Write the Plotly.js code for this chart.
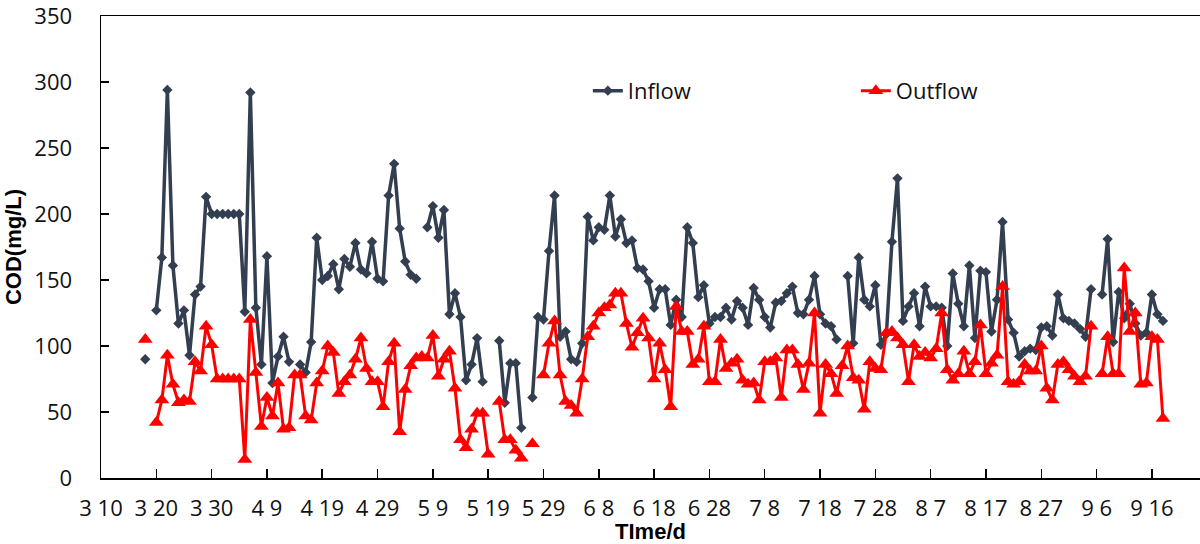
<!DOCTYPE html>
<html><head><meta charset="utf-8">
<script src="https://cdn.plot.ly/plotly-3.0.1.min.js"></script>
<style>html,body{margin:0;padding:0;background:#fff}#chart{width:1200px;height:544px}</style>
</head><body><div id="chart"></div>
<script>
// first sampled day of both series (one value per day, null = no sample)
const firstDay = '2019-03-18';

const inflow = [
  90, null, 127, 167, 294, 161, 117, 127, 93, 139,
  145, 213, 200, 200, 200, 200, 200, 200, 126, 292,
  129, 86, 168, 72, 92, 107, 88, null, 86, 80,
  103, 182, 150, 153, 162, 143, 166, 160, 178, 158,
  155, 179, 151, 149, 214, 238, 189, 164, 154, 151,
  null, 190, 206, 182, 203, 124, 140, 122, 74, 86,
  106, 73, null, null, 104, 57, 87, 87, 38, null,
  61, 122, 120, 172, 214, 107, 111, 90, 88, 102,
  198, 180, 190, 188, 214, 183, 196, 178, 180, 159,
  158, 149, 129, 143, 143, 116, 135, 122, 190, 178,
  137, 146, 117, 122, 122, 129, 120, 134, 129, 116,
  144, 135, 122, 114, 133, 134, 140, 145, 125, 124,
  135, 153, 124, 117, 115, 105, null, 153, 102, 167,
  135, 130, 146, 101, 109, 179, 227, 119, 130, 140,
  115, 145, 130, 130, 129, 100, 155, 132, 115, 161,
  106, 157, 156, 111, 135, 194, 120, 110, 92, 96,
  98, 97, 114, 115, 108, 139, 121, 119, 117, 113,
  107, 143, null, 139, 181, 103, 141, 121, 132, 117,
  108, 110, 139, 124, 119
];

const outflow = [
  105, null, 42, 59, 93, 71, 57, 59, 58, 88,
  81, 115, 101, 75, 75, 75, 75, 75, 14, 120,
  80, 39, 61, 47, 72, 37, 38, 78, 78, 47,
  44, 72, 81, 100, 95, 64, 73, 78, 90, 106,
  83, 73, 73, 54, 88, 102, 35, 67, 85, 91,
  92, 91, 108, 77, 90, 96, 68, 29, 23, 37,
  49, 49, 18, null, 58, 29, 29, 21, 15, null,
  26, null, 78, 102, 119, 78, 58, 55, 49, 75,
  107, 115, 125, 129, 131, 140, 140, 117, 99, 110,
  121, 106, 75, 102, 82, 54, 130, 111, 111, 86,
  90, 115, 73, 73, 105, 83, 87, 90, 74, 71,
  72, 59, 88, 88, 91, 61, 97, 97, 86, 67,
  87, 125, 49, 86, 79, 64, 85, 100, 76, 74,
  52, 88, 83, 82, 110, 111, 106, 101, 73, 101,
  92, 95, 91, 98, 125, 82, 74, 79, 96, 79,
  88, 116, 79, 87, 93, 145, 73, 71, 73, 86,
  81, 81, 100, 68, 59, 86, 88, 82, 77, 73,
  77, 115, null, 79, 107, 79, 79, 159, 111, 125,
  71, 72, 107, 105, 45
];

const tickDates = ['2019-03-10','2019-03-20','2019-03-30','2019-04-09','2019-04-19','2019-04-29',
  '2019-05-09','2019-05-19','2019-05-29','2019-06-08','2019-06-18','2019-06-28','2019-07-08',
  '2019-07-18','2019-07-28','2019-08-07','2019-08-17','2019-08-27','2019-09-06','2019-09-16'];
const tickLabels = ['3 10','3 20','3 30','4 9','4 19','4 29','5 9','5 19','5 29','6 8',
  '6 18','6 28','7 8','7 18','7 28','8 7','8 17','8 27','9 6','9 16'];
const yTicks = [0, 50, 100, 150, 200, 250, 300, 350];

function dailyDates(start, n) {
  const t0 = Date.parse(start + 'T00:00:00Z');
  const out = [];
  for (let i = 0; i < n; i++) out.push(new Date(t0 + i * 86400000).toISOString().slice(0, 10));
  return out;
}
const dates = dailyDates(firstDay, inflow.length);

const tickFont = {family: 'Open Sans, Liberation Sans, sans-serif', size: 22, color: '#111'};
const titleFont = {family: 'Liberation Sans, Arial, sans-serif', size: 22, color: '#000', weight: 'bold'};

const traces = [
  {
    x: dates, y: inflow, name: 'Inflow', type: 'scatter', mode: 'lines+markers',
    line: {color: '#333F50', width: 3.5},
    marker: {symbol: 'diamond', size: 8, color: '#333F50'}
  },
  {
    x: dates, y: outflow, name: 'Outflow', type: 'scatter', mode: 'lines+markers',
    line: {color: '#FF0000', width: 3},
    marker: {symbol: 'triangle-up', size: 13, color: '#FF0000'}
  }
];

const layout = {
  width: 1200, height: 544,
  paper_bgcolor: '#fff', plot_bgcolor: '#fff',
  margin: {l: 101, r: 0, t: 16, b: 66},
  showlegend: true,
  legend: {
    orientation: 'h', x: 0.443, xanchor: 'left', y: 0.838, yanchor: 'middle',
    font: {family: 'Open Sans, Liberation Sans, sans-serif', size: 22, color: '#111'},
    bgcolor: 'rgba(0,0,0,0)', borderwidth: 0,
    entrywidth: 223, entrywidthmode: 'pixels'
  },
  xaxis: {
    type: 'date',
    range: ['2019-03-10', '2019-09-24 16:48'],
    tickmode: 'array', tickvals: tickDates, ticktext: tickLabels,
    showline: true, linecolor: '#000', linewidth: 1.5, mirror: true,
    ticks: 'inside', ticklen: 9, tickwidth: 1.5, tickcolor: '#000',
    showgrid: false, zeroline: false,
    tickfont: tickFont, ticklabelstandoff: 10, ticklabeloverflow: 'allow',
    title: {text: 'TIme/d', font: titleFont, standoff: 6}
  },
  yaxis: {
    range: [0, 350], tickmode: 'array', tickvals: yTicks,
    showline: true, linecolor: '#000', linewidth: 1.5,
    ticks: 'inside', ticklen: 8, tickwidth: 1.5, tickcolor: '#000',
    showgrid: false, zeroline: false,
    tickfont: tickFont, ticklabelstandoff: 23, ticklabeloverflow: 'allow',
    title: {text: 'COD(mg/L)', font: titleFont, standoff: 6}
  }
};

Plotly.newPlot('chart', traces, layout, {displayModeBar: false, staticPlot: true});
</script>
</body></html>
